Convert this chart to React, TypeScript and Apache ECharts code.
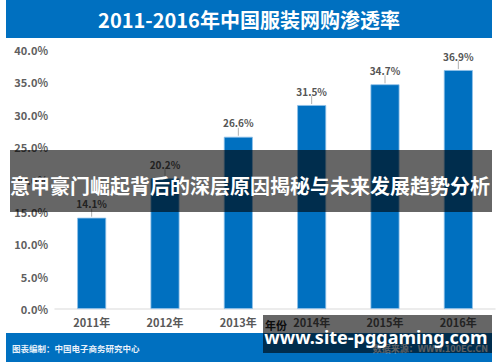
import React, { useEffect, useRef } from "react";
import * as echarts from "echarts";

const categories = ["2011年", "2012年", "2013年", "2014年", "2015年", "2016年"];
const penetration = [14.1, 20.2, 26.6, 31.5, 34.7, 36.9];
const yMin = 0;
const yMax = 40;
const yInterval = 5;

const titleText = "2011-2016年中国服装网购渗透率";
const footerLeft = "图表编制：中国电子商务研究中心";
const footerRight = "数据来源：WWW.100EC.CN";
const axisNameText = "年份";
const bannerText = "意甲豪门崛起背后的深层原因揭秘与未来发展趋势分析";
const watermarkText = "www.site-pggaming.com";

const FONT = '"Noto Sans CJK SC", "Noto Sans", sans-serif';
const BLUE = "#0070C0";

export default function App() {
  const ref = useRef<HTMLDivElement>(null);
  useEffect(() => {
    if (!ref.current) return;
    const chart = echarts.init(ref.current, undefined, { renderer: "svg" });
    chart.setOption({
      animation: false,
      backgroundColor: "#ffffff",
      textStyle: { fontFamily: FONT },
      grid: { left: 55, right: 5, top: 50, bottom: 53, containLabel: false },
      xAxis: {
        type: "category",
        data: categories,
        axisLine: { show: true, lineStyle: { color: "#e6e6e6", width: 1.5 } },
        axisTick: { show: false },
        axisLabel: {
          color: "#595959",
          fontSize: 11,
          fontWeight: "bold",
          fontFamily: FONT,
          margin: 7,
        },
      },
      yAxis: {
        type: "value",
        min: yMin,
        max: yMax,
        interval: yInterval,
        axisLine: { show: false },
        axisTick: { show: false },
        splitLine: { show: false },
        axisLabel: {
          color: "#606060",
          fontSize: 11,
          fontWeight: "bold",
          fontFamily: FONT,
          margin: 7,
          formatter: (v: number) => v.toFixed(1) + "%",
        },
      },
      series: [
        {
          type: "bar",
          data: penetration,
          barWidth: 29,
          itemStyle: { color: BLUE, borderColor: "#8fc0e8", borderWidth: 0.8 },
          label: {
            show: true,
            position: "top",
            distance: 9,
            color: "#555555",
            fontSize: 10,
            fontWeight: "bold",
            fontFamily: FONT,
            formatter: (p: any) => p.value.toFixed(1) + "%",
          },
          z: 2,
        },
        {
          type: "custom",
          data: penetration.map((v, i) => [i, v]),
          renderItem: (params: any, api: any) => {
            const pt = api.coord([api.value(0), api.value(1)]);
            return {
              type: "line",
              shape: { x1: pt[0], y1: pt[1] - 1, x2: pt[0], y2: pt[1] - 9 },
              style: { stroke: "#b0b0b0", lineWidth: 1 },
            };
          },
          silent: true,
          z: 3,
        },
      ],
      graphic: [
        {
          type: "rect",
          shape: { x: 6, y: 0, width: 486, height: 38 },
          style: { fill: BLUE },
          z: 10,
        },
        {
          type: "text",
          x: 249,
          y: 19,
          style: {
            text: titleText,
            fill: "#ffffff",
            font: `bold 20px ${FONT}`,
            align: "center",
            verticalAlign: "middle",
          },
          z: 11,
        },
        {
          type: "rect",
          shape: { x: 6, y: 333, width: 486, height: 29 },
          style: { fill: BLUE },
          z: 10,
        },
        {
          type: "text",
          x: 12,
          y: 348,
          style: {
            text: footerLeft,
            fill: "#e8f1fa",
            font: `bold 8.5px ${FONT}`,
            align: "left",
            verticalAlign: "middle",
          },
          z: 11,
        },
        {
          type: "text",
          x: 488,
          y: 348,
          style: {
            text: footerRight,
            fill: "#e8f1fa",
            font: `bold 9px ${FONT}`,
            align: "right",
            verticalAlign: "middle",
          },
          z: 11,
        },
        {
          type: "text",
          x: 265,
          y: 325,
          style: {
            text: axisNameText,
            fill: "#222222",
            font: `bold 11px ${FONT}`,
            align: "left",
            verticalAlign: "middle",
          },
          z: 11,
        },
        {
          type: "rect",
          shape: { x: 10, y: 150, width: 482, height: 62 },
          style: { fill: "rgba(0,0,0,0.6)" },
          z: 20,
        },
        {
          type: "text",
          x: 250,
          y: 185,
          style: {
            text: bannerText,
            fill: "#ffffff",
            font: `bold 20px ${FONT}`,
            align: "center",
            verticalAlign: "middle",
          },
          z: 21,
        },
        {
          type: "rect",
          shape: { x: 263, y: 315, width: 229, height: 38 },
          style: { fill: "rgba(0,0,0,0.6)" },
          z: 20,
        },
        {
          type: "text",
          x: 376,
          y: 337,
          style: {
            text: watermarkText,
            fill: "#ffffff",
            font: `bold 18px "Noto Sans", sans-serif`,
            align: "center",
            verticalAlign: "middle",
          },
          z: 21,
        },
      ],
    });
    return () => chart.dispose();
  }, []);
  return (
    <div
      ref={ref}
      style={{ position: "fixed", left: 0, top: 0, width: 500, height: 362 }}
    />
  );
}
